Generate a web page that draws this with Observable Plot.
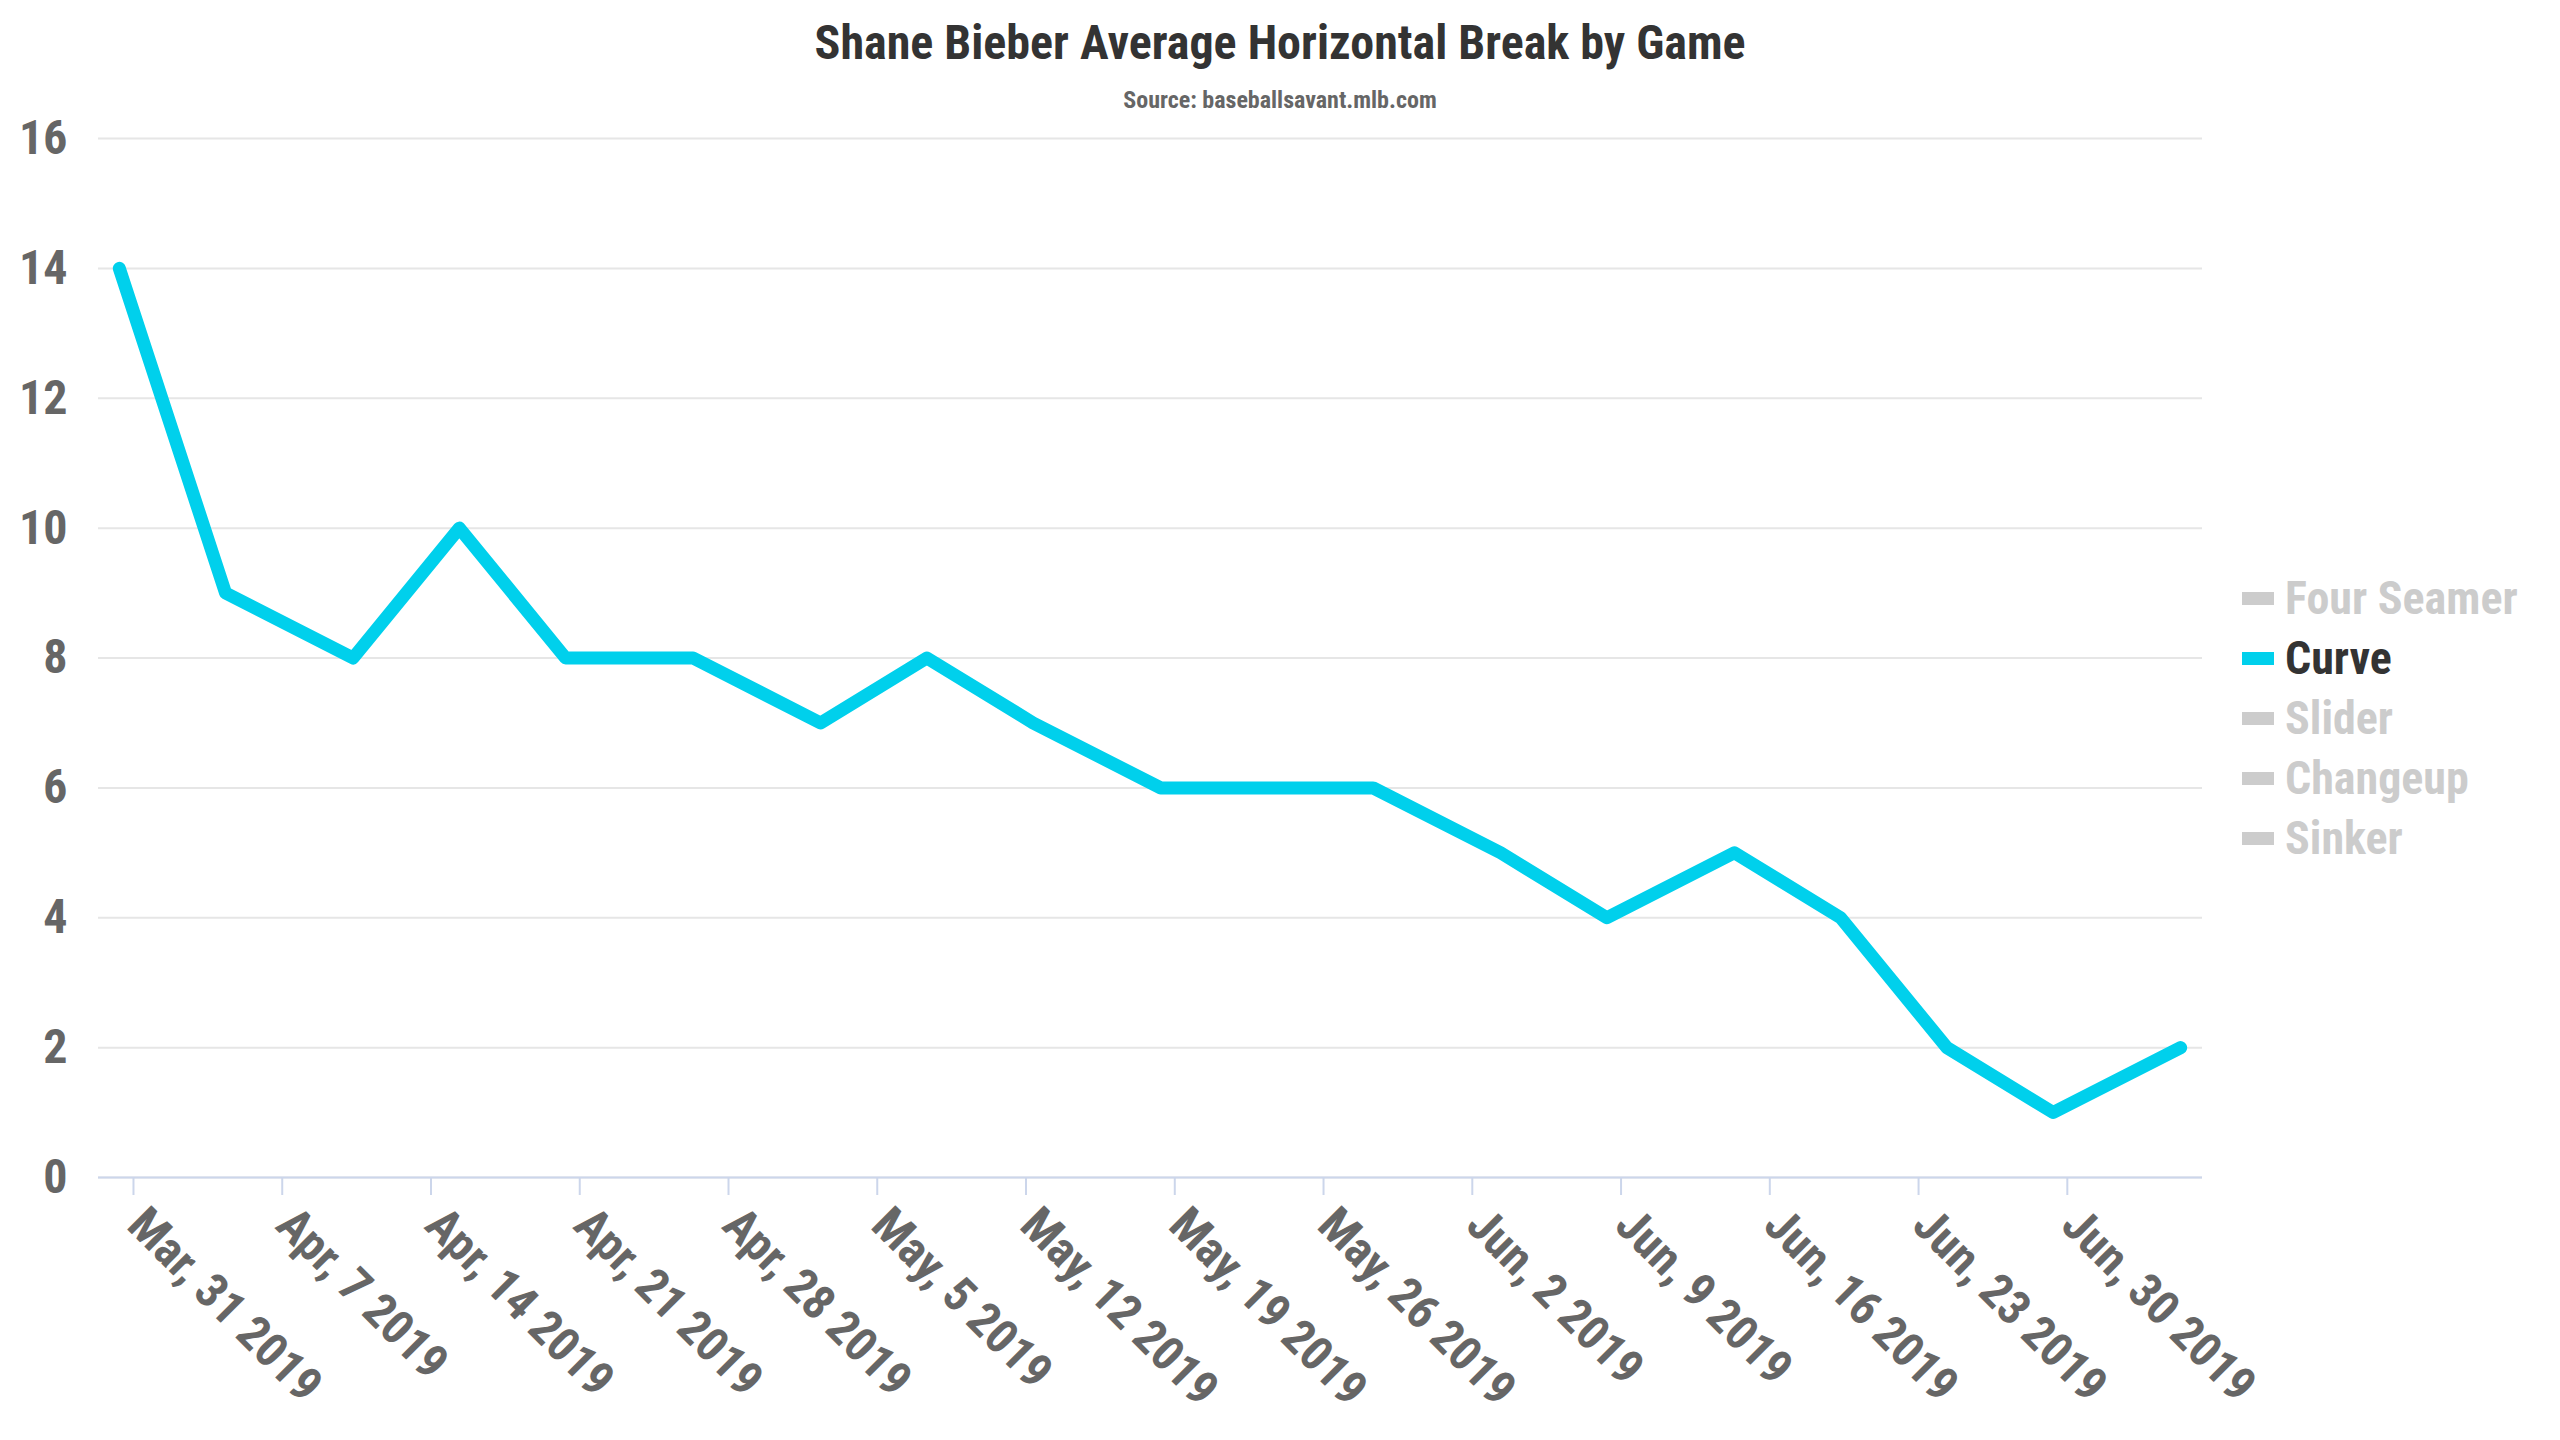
<!DOCTYPE html>
<html>
<head>
<meta charset="utf-8">
<script src="https://cdn.jsdelivr.net/npm/d3@7"></script>
<script src="https://cdn.jsdelivr.net/npm/@observablehq/plot@0.6"></script>
<style>
  html, body { margin: 0; padding: 0; background: #fff; }
  body { width: 2560px; height: 1440px; position: relative; overflow: hidden;
         font-family: "Roboto Condensed", "Liberation Sans Narrow", "DejaVu Sans Condensed", Roboto, sans-serif; font-weight: bold; }
  #title { position: absolute; left: 0; width: 2560px; top: 19px; text-align: center;
           font-size: 48px; line-height: 48px; color: #333333; }
  #subtitle { position: absolute; left: 0; width: 2560px; top: 88px; text-align: center;
              font-size: 24px; line-height: 24px; color: #666666; }
  #chart { position: absolute; left: 0; top: 110px; }
  .lg { position: absolute; left: 2242px; height: 46px; display: flex; align-items: center;
        font-size: 46px; line-height: 46px; white-space: nowrap; }
  .lg .sw { width: 32px; height: 13px; margin-right: 11px; }
</style>
</head>
<body>
<div id="title">Shane Bieber Average Horizontal Break by Game</div>
<div id="subtitle">Source: baseballsavant.mlb.com</div>
<div id="chart"></div>
<div id="legend"></div>
<script>
const FONT = '"Roboto Condensed", "Liberation Sans Narrow", "DejaVu Sans Condensed", Roboto, sans-serif';

// Game dates (points sit ~8h after midnight relative to the week ticks)
const gameDates = [
  "2019-03-30", "2019-04-04", "2019-04-10", "2019-04-15", "2019-04-20", "2019-04-26",
  "2019-05-02", "2019-05-07", "2019-05-12", "2019-05-18", "2019-05-28", "2019-06-03",
  "2019-06-08", "2019-06-14", "2019-06-19", "2019-06-24", "2019-06-29", "2019-07-05"
];
const curveValues = [14, 9, 8, 10, 8, 8, 7, 8, 7, 6, 6, 5, 4, 5, 4, 2, 1, 2];

const tickDates = [
  "2019-03-31", "2019-04-07", "2019-04-14", "2019-04-21", "2019-04-28", "2019-05-05",
  "2019-05-12", "2019-05-19", "2019-05-26", "2019-06-02", "2019-06-09", "2019-06-16",
  "2019-06-23", "2019-06-30"
];
const tickLabels = [
  "Mar, 31 2019", "Apr, 7 2019", "Apr, 14 2019", "Apr, 21 2019", "Apr, 28 2019", "May, 5 2019",
  "May, 12 2019", "May, 19 2019", "May, 26 2019", "Jun, 2 2019", "Jun, 9 2019", "Jun, 16 2019",
  "Jun, 23 2019", "Jun, 30 2019"
];
const yTicks = [0, 2, 4, 6, 8, 10, 12, 14, 16];
const legendNames = ["Four Seamer", "Curve", "Slider", "Changeup", "Sinker"];
const activeSeries = "Curve";
const lineColor = "#00d0ec";

const data = gameDates.map((d, i) => ({ date: new Date(d + "T08:00:00Z"), value: curveValues[i] }));
const ticks = tickDates.map(d => new Date(d + "T00:00:00Z"));

const chart = Plot.plot({
  width: 2560,
  height: 1330,
  marginLeft: 98,
  marginRight: 358,
  marginTop: 28,
  marginBottom: 263,
  style: { fontFamily: FONT, fontWeight: "bold", fontSize: "48px", color: "#666666", background: "transparent", overflow: "visible" },
  x: { type: "utc", domain: [new Date("2019-03-29T08:30:00Z"), new Date("2019-07-06T08:40:00Z")], label: null },
  y: { domain: [0, 16], label: null },
  marks: [
    Plot.gridY(yTicks, { stroke: "#e6e6e6", strokeOpacity: 1, strokeWidth: 2 }),
    Plot.ruleY([0], { stroke: "#ccd6eb", strokeWidth: 2 }),
    Plot.axisY(yTicks, { tickSize: 0, tickPadding: 31, fontSize: 48, fill: "#666666", label: null, tickFormat: d => String(d) }),
    Plot.axisX(ticks, { tickSize: 18, stroke: "#ccd6eb", strokeWidth: 2, strokeOpacity: 1, fill: "none", label: null }),
    Plot.text(ticks, {
      x: d => d, frameAnchor: "bottom", text: (d, i) => tickLabels[i],
      rotate: 45, textAnchor: "start", lineAnchor: "top", dx: 16, dy: 26,
      fill: "#666666", fontSize: 48, fontWeight: "bold"
    }),
    Plot.line(data, { x: "date", y: "value", stroke: lineColor, strokeWidth: 13, strokeLinecap: "round", strokeLinejoin: "round" })
  ]
});
document.getElementById("chart").appendChild(chart);

const legend = document.getElementById("legend");
legendNames.forEach((name, i) => {
  const row = document.createElement("div");
  row.className = "lg";
  row.style.top = (575 + 60 * i) + "px";
  const active = name === activeSeries;
  const sw = document.createElement("span");
  sw.className = "sw";
  sw.style.background = active ? lineColor : "#cccccc";
  const tx = document.createElement("span");
  tx.textContent = name;
  tx.style.color = active ? "#333333" : "#cccccc";
  row.appendChild(sw);
  row.appendChild(tx);
  legend.appendChild(row);
});
</script>
</body>
</html>
